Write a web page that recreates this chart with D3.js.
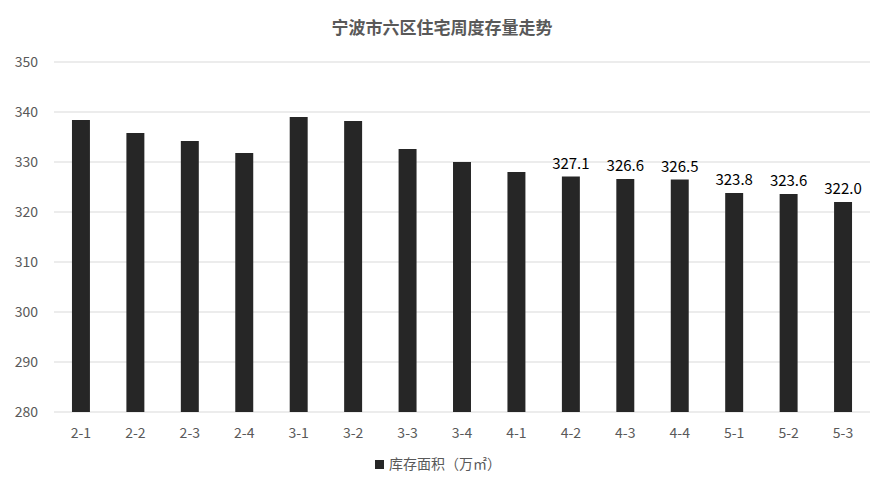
<!DOCTYPE html>
<meta charset="utf-8">
<head>
<script src="https://cdn.jsdelivr.net/npm/d3@7"></script>
<style>
  body { margin: 0; background: #fff; }
  text { font-family: 'Noto Sans CJK SC', 'Noto Sans', sans-serif; }
</style>
</head>
<body>
<div id="chart"></div>
<script>
var categories = ["2-1","2-2","2-3","2-4","3-1","3-2","3-3","3-4","4-1","4-2","4-3","4-4","5-1","5-2","5-3"];
var values = [338.4, 335.8, 334.2, 331.8, 339.0, 338.2, 332.6, 330.0, 328.0, 327.1, 326.6, 326.5, 323.8, 323.6, 322.0];
var labelled = ["4-2","4-3","4-4","5-1","5-2","5-3"];
var yTicks = [280, 290, 300, 310, 320, 330, 340, 350];

var w = 885, h = 488;
var svg = d3.select("#chart").append("svg").attr("width", w).attr("height", h);

var x = d3.scaleBand().domain(categories).range([54, 870]).paddingInner(0.67).paddingOuter(0.33);
var y = d3.scaleLinear().domain([280, 350]).range([412, 62]);

// gridlines
svg.append("g").selectAll("line").data(yTicks).enter().append("line")
  .attr("x1", 54).attr("x2", 870)
  .attr("y1", d => y(d)).attr("y2", d => y(d))
  .attr("stroke", "#d9d9d9").attr("stroke-width", 1);

// y labels
svg.append("g").selectAll("text").data(yTicks).enter().append("text")
  .attr("x", 38).attr("y", d => y(d) + 5)
  .attr("text-anchor", "end").attr("font-size", 14).attr("fill", "#595959")
  .text(d => d);

// bars
svg.append("g").selectAll("rect").data(values).enter().append("rect")
  .attr("x", (d, i) => x(categories[i]))
  .attr("width", x.bandwidth())
  .attr("y", d => y(d))
  .attr("height", d => y(280) - y(d))
  .attr("fill", "#262626");

// data labels
svg.append("g").selectAll("text").data(values).enter()
  .filter((d, i) => labelled.indexOf(categories[i]) >= 0)
  .append("text")
  .attr("x", (d, i, n) => 0)
  .each(function(d) {
    var i = values.indexOf(d);
    d3.select(this).attr("x", x(categories[i]) + x.bandwidth() / 2).attr("y", y(d) - 8);
  })
  .attr("text-anchor", "middle").attr("font-size", 15).attr("fill", "#000")
  .text(d => d.toFixed(1));

// x labels
svg.append("g").selectAll("text").data(categories).enter().append("text")
  .attr("x", d => x(d) + x.bandwidth() / 2).attr("y", 438)
  .attr("text-anchor", "middle").attr("font-size", 14).attr("fill", "#595959")
  .text(d => d);

// title
svg.append("text").attr("x", 442).attr("y", 34).attr("text-anchor", "middle")
  .attr("font-size", 17).attr("font-weight", "bold").attr("fill", "#595959")
  .text("宁波市六区住宅周度存量走势");

// legend
svg.append("rect").attr("x", 375).attr("y", 460).attr("width", 9).attr("height", 9).attr("fill", "#262626");
svg.append("text").attr("x", 389).attr("y", 469).attr("font-size", 14).attr("fill", "#595959")
  .text("库存面积（万㎡）");
</script>
</body>
